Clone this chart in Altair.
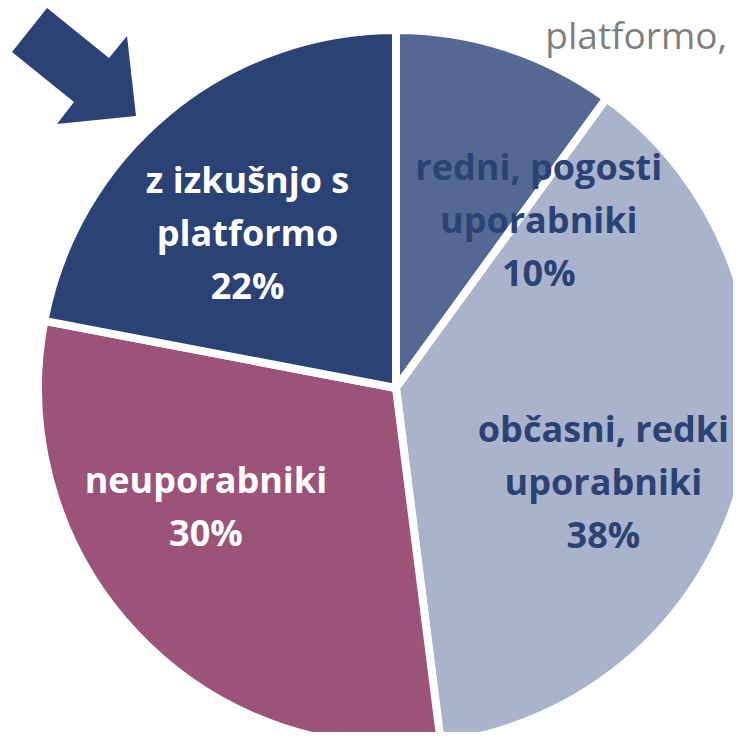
import altair as alt
import pandas as pd

# ---- data ----
categories = [
    "redni, pogosti uporabniki",
    "občasni, redki uporabniki",
    "neuporabniki",
    "z izkušnjo s platformo",
]
shares = [10, 38, 30, 22]
label_lines = [
    ["redni, pogosti", "uporabniki"],
    ["občasni, redki", "uporabniki"],
    ["neuporabniki"],
    ["z izkušnjo s", "platformo"],
]
colors = ["#536893", "#a9b4cc", "#9b5379", "#2b4275"]
label_colors = ["#2b4275", "#2b4275", "#ffffff", "#ffffff"]
corner_text = "platformo,"

df = pd.DataFrame({
    "cat": categories,
    "share": shares,
    "order": list(range(len(categories))),
    "label": ["\n".join(lines + [f"{s}%"]) for lines, s in zip(label_lines, shares)],
})

# ---- layout / style ----
W, H = 725, 724
CX, CY = 388, 380          # pie centre inside the view
R_OUT = 358
FONT = "Open Sans"

base = alt.Chart(df)

pie = base.mark_arc(
    outerRadius=R_OUT, stroke="white", strokeWidth=8, strokeJoin="round"
).encode(
    theta=alt.Theta("share:Q", stack=True),
    order=alt.Order("order:Q"),
    color=alt.Color("cat:N", scale=alt.Scale(domain=categories, range=colors), legend=None),
    x=alt.value(CX),
    y=alt.value(CY),
)

lab_base = (
    base.transform_joinaggregate(total="sum(share)")
    .transform_window(cum="sum(share)", sort=[alt.SortField("order")], frame=[None, 0])
    .transform_calculate(mid="2*PI*(datum.cum - datum.share/2)/datum.total")
)

# label placement: (radius along the slice's mid angle, dx, dy)
placement = [(200, 81, -18), (210, 4, 2), (210, -37, -39), (200, -21, -41)]

layers = [pie]
for i, (r, dx, dy) in enumerate(placement):
    layers.append(
        lab_base.transform_filter(alt.datum.order == i)
        .mark_text(
            radius=r, dx=dx, dy=dy, align="center", baseline="alphabetic",
            lineBreak="\n", lineHeight=53, font=FONT, fontWeight="bold",
            fontSize=36, color=label_colors[i],
        )
        .encode(
            theta=alt.Theta("mid:Q", scale=None),
            text="label:N",
            x=alt.value(CX),
            y=alt.value(CY),
        )
    )

arrow_path = ("M -0.435 -0.935 L 0.565 -0.129 L 0.855 -0.484 L 1 0.806 "
              "L -0.274 0.935 L 0 0.581 L -1 -0.226 Z")
one = alt.Data(values=[{"k": 1}])
arrow = alt.Chart(one).mark_point(
    shape=arrow_path, filled=True, color="#2b4275", opacity=1,
    size=124 * 124, strokeWidth=0,
).encode(x=alt.value(66), y=alt.value(58))

corner = alt.Chart(one).mark_text(
    align="right", baseline="alphabetic", font=FONT, fontSize=37, color="#7f7f7f",
).encode(x=alt.value(719), y=alt.value(41), text=alt.value(corner_text))

layers += [arrow, corner]

chart = (
    alt.layer(*layers)
    .properties(width=W, height=H, padding=0, autosize="none")
    .configure_view(strokeWidth=0)
)

chart.save("out.html", embed_options={"renderer": "svg", "actions": False})
